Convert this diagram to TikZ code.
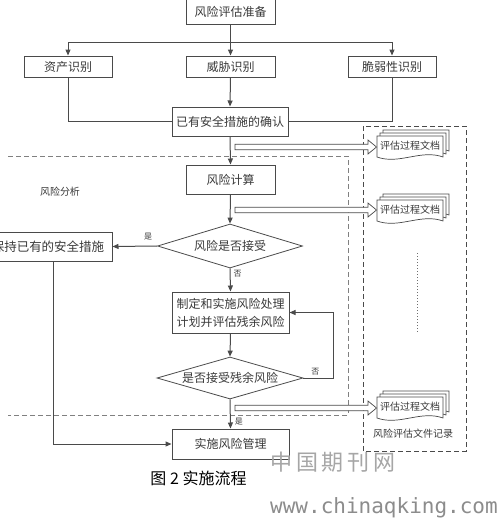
\documentclass[tikz,border=0pt]{standalone}
\usepackage{fontspec}
\setmainfont{Noto Sans CJK SC}
\newfontfamily\monof{DejaVu Sans Mono}
\usetikzlibrary{shapes.geometric,arrows.meta}
\definecolor{ln}{HTML}{4A4A4A}
\definecolor{tx}{HTML}{3A3A3A}
\tikzset{
  stepbox/.style={draw=ln,line width=1pt,fill=white,inner sep=0pt,text=tx,font=\fontsize{12}{15}\selectfont,align=center},
  decbox/.style={diamond,aspect=3.3,draw=ln,line width=0.8pt,fill=white,inner sep=0pt,text=tx,font=\fontsize{12}{15}\selectfont},
  conn/.style={draw=ln,line width=1pt},
  arr/.style={conn,-{Triangle[length=6pt,width=5pt]}},
  lbl/.style={text=tx,font=\fontsize{8}{9}\selectfont,inner sep=0pt},
  hollow/.style={draw=ln,line width=0.7pt,fill=white},
  doctext/.style={text=tx,font=\fontsize{10}{12}\selectfont,inner sep=0pt},
}
\newcommand\docstack[2]{%
  \foreach \o in {6,3,0}{%
    \filldraw[draw=ln,line width=0.7pt,fill=white]
      ({377+\o},{#2-10-\o}) -- ({443+\o},{#2-10-\o}) -- ({443+\o},{#2+11-\o})
      .. controls ({421+\o},{#2+3-\o}) and ({399+\o},{#2+19-\o}) .. ({377+\o},{#2+11-\o}) -- cycle;
  }
  \node[doctext] (#1) at (410,#2) {评估过程文档};
}
\newcommand\hollowarrow[2]{%
  \coordinate (#1) at (235,#2);
  \filldraw[hollow] (#1) -- ++(0,-2.7) -- (368,{#2-2.7}) -- (368,{#2-7}) -- (376.5,#2)
    -- (368,{#2+7}) -- (368,{#2+2.7}) -- (235,{#2+2.7}) -- cycle;
}
\begin{document}
\begin{tikzpicture}[x=1pt,y=-1pt]
\useasboundingbox (0,0) rectangle (499,520);
\clip (0,0) rectangle (499,520);
\fill[white] (0,0) rectangle (499,520);

% dashed regions
\draw[draw=ln!70,line width=0.9pt,dash pattern=on 5pt off 3pt] (8,156) -- (348,156) -- (348,415) -- (8,415);
\draw[draw=ln,line width=1pt,dash pattern=on 5pt off 3pt] (363,126) rectangle (466,451);
\draw[draw=ln!80,line width=1pt,dotted] (417,253) -- (417,333);

% nodes
\node[stepbox,minimum width=89pt,minimum height=25pt] (prep) at (230.5,11.5) {风险评估准备};
\node[stepbox,minimum width=88pt,minimum height=21pt] (asset) at (68,66.5) {资产识别};
\node[stepbox,minimum width=89pt,minimum height=21pt] (threat) at (230.5,66.5) {威胁识别};
\node[stepbox,minimum width=88pt,minimum height=21pt] (vuln) at (392,66.5) {脆弱性识别};
\node[stepbox,minimum width=116pt,minimum height=29pt] (confirm) at (230,121.5) {已有安全措施的确认};
\node[stepbox,minimum width=89pt,minimum height=29pt] (calc) at (230.5,179.5) {风险计算};
\node[decbox,minimum width=145pt,minimum height=44pt] (dec1) at (230,246) {风险是否接受};
\node[stepbox,minimum width=128pt,minimum height=29pt,font=\fontsize{12.5}{15}\selectfont] (keep) at (48,246.5) {保持已有的安全措施};
\node[stepbox,minimum width=117pt,minimum height=41pt,font=\fontsize{12}{18}\selectfont] (plan) at (230.5,312.5) {制定和实施风险处理\\计划并评估残余风险};
\node[decbox,minimum width=146pt,minimum height=42pt] (dec2) at (230,378) {是否接受残余风险};
\node[stepbox,minimum width=117pt,minimum height=30pt] (impl) at (230.5,444) {实施风险管理};

\node[text=tx,font=\fontsize{10}{12}\selectfont,inner sep=0pt] (analysis) at (60,192) {风险分析};
\node[text=tx,font=\fontsize{10}{12}\selectfont,inner sep=0pt] (record) at (413,434) {风险评估文件记录};

% connectors
\coordinate (split) at (230.5,42);
\draw[conn] (prep.south) -- (split);
\draw[conn] (asset.north |- split) -- (vuln.north |- split);
\draw[arr] (asset.north |- split) -- (asset.north);
\draw[arr] (split) -- (threat.north);
\draw[arr] (vuln.north |- split) -- (vuln.north);
\draw[conn] (asset.south) |- (confirm.west);
\draw[conn] (vuln.south) |- (confirm.east);
\draw[arr] (threat.south) -- (confirm.north);
\draw[arr] (confirm.south) -- (calc.north);
\draw[arr] (calc.south) -- (dec1.north);
\draw[arr] (dec1.west) -- node[lbl,above=5pt,pos=0.2] {是} (keep.east);
\draw[arr] (dec1.south) -- node[lbl,right=3pt,pos=0.25] {否} (plan.north);
\draw[arr] (plan.south) -- (dec2.north);
\draw[arr] (dec2.east) -- node[lbl,above=2pt,pos=0.4] {否} ++(30,0) |- (plan.east);
\draw[arr] (dec2.south) -- node[lbl,right=4pt,pos=0.78] {是} (impl.north);
\coordinate (kdown) at ([xshift=5pt]keep.south);
\draw[arr] (kdown) |- (impl.west);

% documents and hollow arrows
\docstack{doc1}{146}
\docstack{doc2}{210}
\docstack{doc3}{407}
\hollowarrow{ha1}{147}
\hollowarrow{ha2}{210}
\hollowarrow{ha3}{408}

% caption and watermark
\node[text=black,font=\fontsize{16}{18}\selectfont,inner sep=0pt] (cap) at (198.5,478) {图 2 实施流程};
\node[text=black!35,font=\fontsize{22}{24}\selectfont,inner sep=0pt] (wm1) at (333,462) {中\,国\,期\,刊\,网};
\node[text=black!45,font=\monof\fontsize{21}{24}\selectfont,inner sep=0pt] (wm2) at (384,508) {www.chinaqking.com};
\end{tikzpicture}
\end{document}
